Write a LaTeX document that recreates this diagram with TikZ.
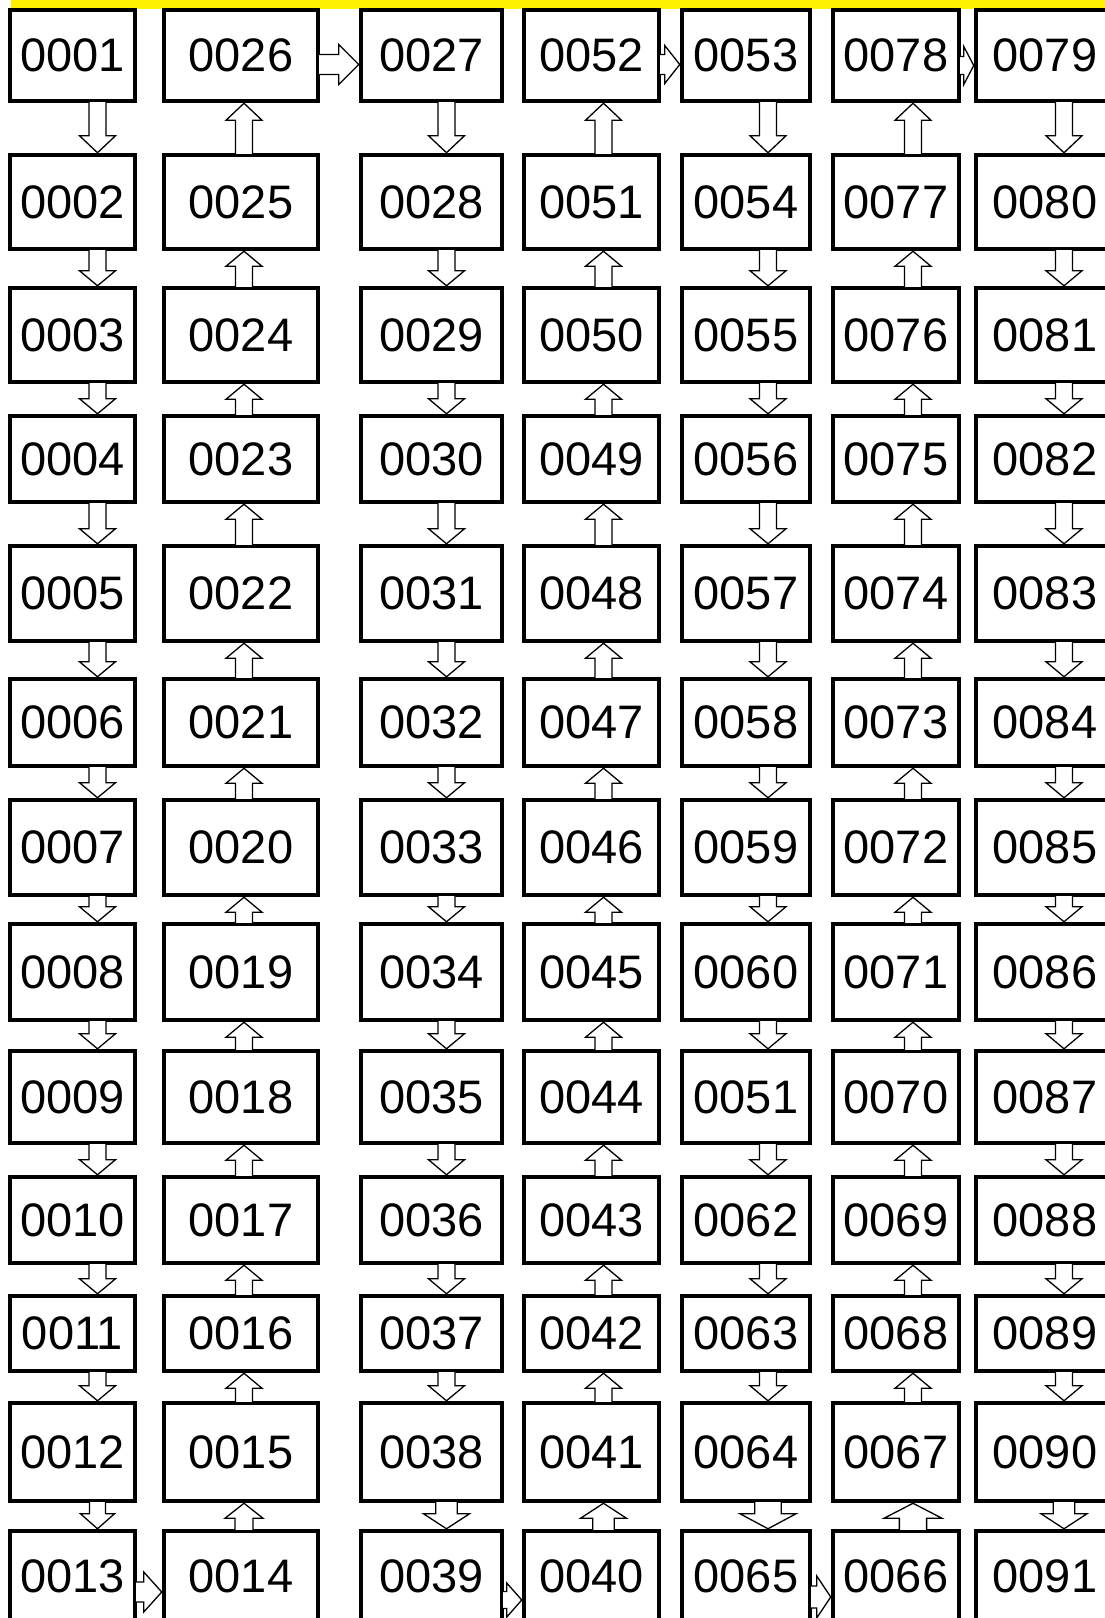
\documentclass[tikz,border=0pt]{standalone}
\usepackage{fontspec}
\setmainfont{Liberation Sans}
\usetikzlibrary{
    calc
}

% Hollow block arrow from #1 to the tip #2
% (#3 half shaft width, #4 half head width, #5 head length)
\newcommand{\blockarrow}[5]{%
    \coordinate (ba-tail) at ($(#1)!-2pt!(#2)$);
    \coordinate (ba-head) at ($(#2)!#5!(#1)$);
    \draw[hollow arrow]
        ($(ba-tail)!#3!90:(#2)$)
        -- ($(ba-head)!#3!90:(#2)$)
        -- ($(ba-head)!#4!90:(#2)$)
        -- (#2)
        -- ($(ba-head)!#4!-90:(#2)$)
        -- ($(ba-head)!#3!-90:(#2)$)
        -- ($(ba-tail)!#3!-90:(#2)$)
        -- cycle;
}

\begin{document}
\begin{tikzpicture}[
    x=1pt,
    y=-1pt,
    every node/.style={
        font=\fontsize{47pt}{56pt}\selectfont
    },
    cell/.style={
        draw=black,
        line width=4.5pt,
        inner sep=0pt,
        anchor=center
    },
    hollow arrow/.style={
        draw=black,
        fill=white,
        line width=1.3pt
    }
]

    \useasboundingbox (0,0) rectangle (1105,1618);

    % Yellow strip along the top edge
    \fill[yellow] (11,0) rectangle (1105,8.5);

    % Boxes, numbered as a snake through the columns
    \foreach \col/\xl/\xr in {1/10/135, 2/164/318, 3/361/502, 4/524/659,
                              5/682/810, 6/833/959, 7/976/1114} {
        \foreach \row/\ytop/\ybot in {1/10/101, 2/155/249, 3/288/382,
                                      4/416/502, 5/546/641, 6/679/766,
                                      7/800/895, 8/924/1020, 9/1051/1143,
                                      10/1177/1263, 11/1296/1371,
                                      12/1403/1501, 13/1531/1622} {
            \pgfmathtruncatemacro{\cellno}{isodd(\col) ? 13*(\col-1)+\row : 13*\col-\row+1}
            \ifnum\col=5 \ifnum\row=9 \def\cellno{51}\fi\fi
            \node[
                cell,
                minimum width={(\xr-\xl)*1pt},
                minimum height={(\ybot-\ytop)*1pt}
            ] (b-\col-\row) at ({(\xl+\xr)/2},{(\ytop+\ybot)/2})
                {\ifnum\cellno<10 000\else 00\fi\cellno};
        }
    }

    % Block arrows down and up the columns
    \foreach \col/\dx/\hw in {1/25/17, 2/3/19, 3/15/23, 4/12/23,
                              5/22/28, 6/17/29, 7/19/23} {
        \foreach \row in {1,...,12} {
            \pgfmathtruncatemacro{\below}{\row+1}
            \ifnum\row=12
                \pgfmathsetlengthmacro{\shaft}{0.47*\hw*1pt}
                \pgfmathsetlengthmacro{\head}{\hw*1pt}
            \else
                \def\shaft{8.5pt}
                \def\head{18pt}
            \fi
            \ifnum\row=1 \def\headlen{17pt}\else \def\headlen{15pt}\fi
            \ifodd\col
                \coordinate (from) at ([xshift=\dx pt]b-\col-\row.south);
                \coordinate (to) at ([xshift=\dx pt]b-\col-\below.north);
            \else
                \coordinate (from) at ([xshift=\dx pt]b-\col-\below.north);
                \coordinate (to) at ([xshift=\dx pt]b-\col-\row.south);
            \fi
            \blockarrow{from}{to}{\shaft}{\head}{\headlen}
        }
    }

    % Turns at the top
    \coordinate (from) at ([yshift=-9pt]b-2-1.east);
    \coordinate (to) at ([yshift=-9pt]b-3-1.west);
    \blockarrow{from}{to}{10pt}{20pt}{20pt}

    \coordinate (from) at ([yshift=-9pt]b-4-1.east);
    \coordinate (to) at ([yshift=-9pt]b-5-1.west);
    \blockarrow{from}{to}{10pt}{19pt}{15pt}

    \coordinate (from) at ([yshift=-10pt]b-6-1.east);
    \coordinate (to) at ([yshift=-10pt]b-7-1.west);
    \blockarrow{from}{to}{9pt}{19pt}{10pt}

    % Turns at the bottom
    \coordinate (from) at ([yshift=-15.5pt]b-1-13.east);
    \coordinate (to) at ([yshift=-15.5pt]b-2-13.west);
    \blockarrow{from}{to}{10pt}{20pt}{18pt}

    \coordinate (from) at ([yshift=-23.5pt]b-3-13.east);
    \coordinate (to) at ([yshift=-23.5pt]b-4-13.west);
    \blockarrow{from}{to}{8.5pt}{17pt}{15pt}

    \coordinate (from) at ([yshift=-20.5pt]b-5-13.east);
    \coordinate (to) at ([yshift=-20.5pt]b-6-13.west);
    \blockarrow{from}{to}{11pt}{21pt}{14pt}

\end{tikzpicture}
\end{document}
